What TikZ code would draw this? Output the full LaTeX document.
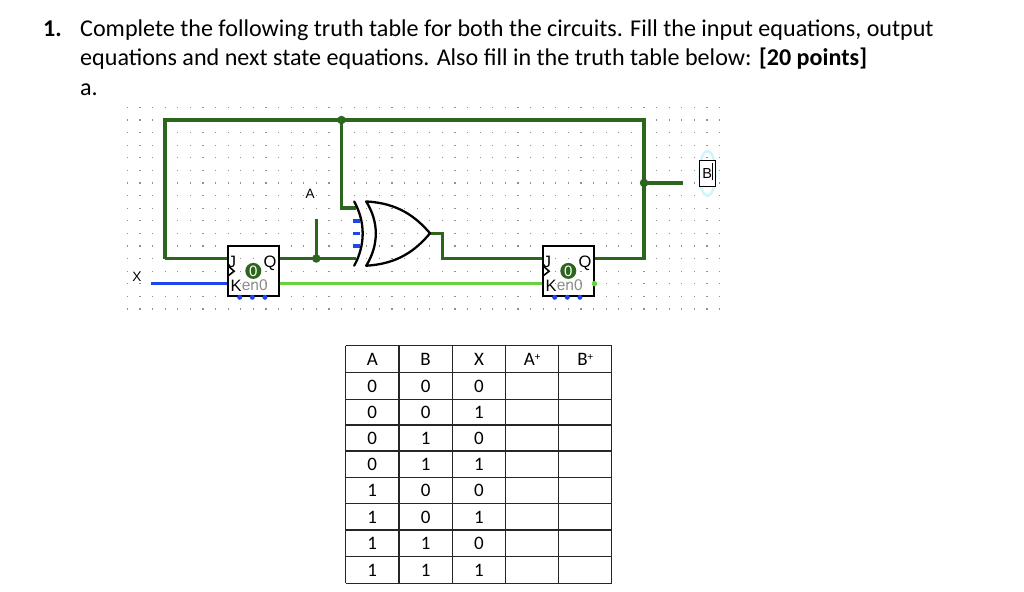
\documentclass[tikz,border=0pt]{standalone}
\usepackage{fontspec}
\usetikzlibrary{shapes.geometric}
\setmainfont{Carlito}
\newfontfamily\lgfont{Liberation Sans}
\definecolor{wdark}{RGB}{44,102,30}
\definecolor{wblue}{RGB}{30,70,240}
\definecolor{wlight}{RGB}{102,210,60}
\definecolor{griddot}{RGB}{145,145,145}
\definecolor{halo}{RGB}{205,245,250}
\definecolor{engray}{RGB}{140,140,140}
\tikzset{
  wire/.style={draw=wdark,line width=3.4pt,line join=miter},
  wireblue/.style={draw=wblue,line width=3.4pt},
  wirelight/.style={draw=wlight,line width=3.4pt},
  junction/.style={circle,fill=wdark,inner sep=0pt,minimum size=8.5pt},
  ffbox/.style={draw=black,line width=2pt,minimum width=50.4pt,minimum height=50.4pt,inner sep=0pt},
  pinblue/.style={circle,fill=wblue,inner sep=0pt,minimum size=5pt},
  pinlight/.style={circle,fill=wlight,inner sep=0pt,minimum size=5.5pt},
  statedot/.style={circle,fill=wdark,inner sep=0pt,minimum size=16pt,text=white,font=\lgfont\fontsize{15}{15}\selectfont},
  fflabel/.style={inner sep=0pt,font=\lgfont\fontsize{16.5}{16.5}\selectfont},
  engraylabel/.style={inner sep=0pt,text=engray,font=\lgfont\fontsize{15.5}{15.5}\selectfont},
  titletext/.style={anchor=base west,inner sep=0pt,font=\fontsize{24.1}{25}\selectfont},
  cell/.style={inner sep=0pt,font=\fontsize{19}{20}\selectfont},
  tabline/.style={draw=black!85,line width=1.2pt},
  gatepath/.style={draw=black,line width=2.3pt,line cap=round,line join=round},
  wirelabel/.style={inner sep=0pt,font=\lgfont\fontsize{13.5}{13.5}\selectfont}
}
\newcommand{\flipflop}[2]{%
  \node[ffbox] (#1) at (#2) {};
  \node[fflabel] (#1J) at ([shift={(5,17)}]#1.north west) {J};
  \draw[black,line width=1.6pt] ([shift={(1,21)}]#1.north west) -- ([shift={(7,26.3)}]#1.north west) -- ([shift={(1,31)}]#1.north west);
  \node[fflabel] (#1Q) at ([shift={(-9.5,-34.5)}]#1.south east) {Q};
  \node[statedot] (#1S) at ([shift={(26.2,26)}]#1.north west) {0};
  \node[engraylabel,anchor=west] (#1E) at ([shift={(14.5,40.5)}]#1.north west) {en0};
  \node[fflabel] (#1K) at ([shift={(9,40.7)}]#1.north west) {K};
  \foreach \dx/\nm in {12.6/a,25.2/b,37.8/c}
    \node[pinblue] (#1p\nm) at ([shift={(\dx,0)}]#1.south west) {};
}
\begin{document}
\begin{tikzpicture}[x=1pt,y=-1pt]
\useasboundingbox (0,0) rectangle (1024,591);
\fill[white] (0,0) rectangle (1024,591);
% heading
\node[titletext] (t0) at (43,36.5) {\textbf{1.}};
\node[titletext] (t1) at (80,36.5) {Complete the following truth table for both the circuits. Fill the input equations, output};
\node[titletext] (t2) at (80,65.5) {equations and next state equations. Also fill in the truth table below: \textbf{[20 points]}};
\node[titletext] (t3) at (80,95.5) {a.};
% grid
\foreach \i in {0,...,47}
  \foreach \j in {0,...,16}
    \fill[griddot] ({127.3+12.6*\i-0.6},{107.3+12.6*\j-0.6}) rectangle +(1.2,1.2);
% coordinates
\coordinate (tl) at (165,120);
\coordinate (jt) at (341.5,120);
\coordinate (tr) at (644,120);
\coordinate (bl) at (165,258.5);
\coordinate (xs) at (151,283.7);
\coordinate (ja) at (316.3,258.5);
\coordinate (as) at (316.3,219.3);
\coordinate (g1) at (341.5,208);
\coordinate (g2) at (356,208);
\coordinate (g3) at (356,258.5);
\coordinate (g4) at (430,233.3);
\coordinate (o1) at (442.3,233.3);
\coordinate (o2) at (442.3,258.5);
\coordinate (o3) at (644,258.5);
\coordinate (jb) at (644,182.9);
\coordinate (be) at (683.3,182.9);
% flip-flops
\flipflop{ffa}{253.3,271.1}
\flipflop{ffb}{568.3,271.1}
% wires
\path[wire] (ja) -- (as);
\path[wire] (bl) -- (tl) -- (tr) -- (o3) -- (ffb.east |- o3);
\path[wire] (jt) -- (g1) -- (g2);
\path[wire] (bl) -- (ffa.west |- bl);
\path[wire] (ffa.east |- g3) -- (g3);
\path[wire] (g4) -- (o1) -- (o2) -- (ffb.west |- o2);
\path[wire] (jb) -- (be);
\path[wireblue] (xs) -- (ffa.west |- xs);
\path[wirelight] (ffa.east |- xs) -- (ffb.west |- xs);
\node[pinlight] (ffbq) at (ffb.east |- xs) {};
\node[junction] (dja) at (ja) {};
\node[junction] (djt) at (jt) {};
\node[junction] (djb) at (jb) {};
% gate inputs
\foreach \y/\nm in {220.7/a,233.3/b,245.9/c}{
  \coordinate (gi\nm) at (353,\y);
  \coordinate (gj\nm) at (360,\y);
  \draw[wblue,line width=3.6pt] (gi\nm) -- (gj\nm);
}
% gate
\draw[gatepath] (354.2,201.5) .. controls (365.5,222) and (365.5,245) .. (354.2,265.7);
\draw[gatepath] (366.2,201.5) .. controls (398,203) and (416,217) .. (g4)
  .. controls (416,250) and (398,264) .. (366.2,265.7)
  .. controls (379,245) and (379,222) .. cycle;
% labels
\node[wirelabel] (la) at (310,193.5) {A};
\node[wirelabel] (lx) at (137,276.5) {X};
% output pin
\node[draw=halo,line width=2.4pt,ellipse,minimum width=16pt,minimum height=45pt,inner sep=0pt] (bh) at (707.5,173.4) {};
\node[draw=black,fill=white,line width=1.2pt,minimum width=16.5pt,minimum height=26.5pt,inner sep=0pt] (bp) at (707.5,173.5) {};
\node[inner sep=0pt,font=\lgfont\fontsize{14.5}{14.5}\selectfont] (bt) at (707.3,174) {B};
\draw[black,line width=1pt] (712.7,162.7) -- (712.7,180);
% table
\foreach \x in {345.7,399,452.3,505.7,558.7,611.7}
  \draw[tabline] (\x,345.7) -- (\x,583.3);
\foreach \y in {345.7,372.3,399.3,425,451,477.3,503.7,530,556.7,583.3}
  \draw[tabline] (345.7,\y) -- (611.7,\y);
\node[cell] (hA) at (372.3,359.5) {A};
\node[cell] (hB) at (425.6,359.5) {B};
\node[cell] (hX) at (479,359.5) {X};
\node[cell] (hAp) at (532.2,359.5) {A\raisebox{5pt}{\fontsize{11}{11}\selectfont+}};
\node[cell] (hBp) at (585.2,359.5) {B\raisebox{5pt}{\fontsize{11}{11}\selectfont+}};
\foreach \a/\b/\c/\y in {0/0/0/386.3,0/0/1/412.6,0/1/0/438.5,0/1/1/464.6,1/0/0/490.8,1/0/1/517.3,1/1/0/543.8,1/1/1/570.5}{
  \node[cell] at (372.3,\y) {\a};
  \node[cell] at (425.6,\y) {\b};
  \node[cell] at (479,\y) {\c};
}
\end{tikzpicture}
\end{document}
